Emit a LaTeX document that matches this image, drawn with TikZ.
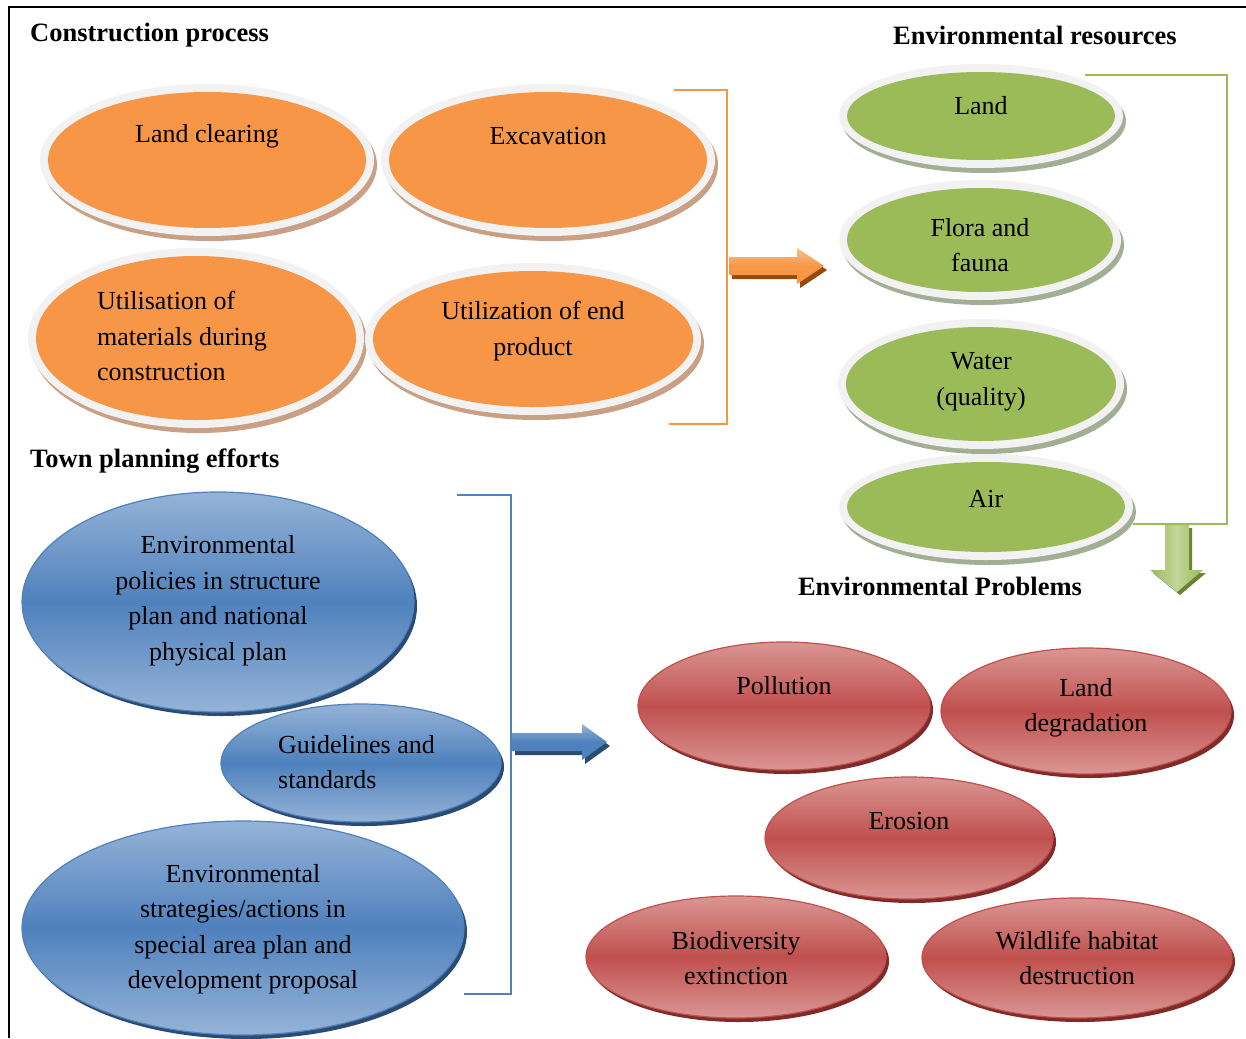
\documentclass[tikz,border=0pt]{standalone}
\usepackage{fontspec}
\setmainfont{Liberation Serif}
\usetikzlibrary{shapes.geometric}
\definecolor{orng}{HTML}{F79646}
\definecolor{orngshadow}{HTML}{C9A083}
\definecolor{grn}{HTML}{9BBB59}
\definecolor{grnshadow}{HTML}{A3AF94}
\definecolor{ringgray}{HTML}{F2F2F2}
\definecolor{blu1}{HTML}{95B3D7}
\definecolor{blu2}{HTML}{4F81BD}
\definecolor{blushadow}{HTML}{2B4B73}
\definecolor{red1}{HTML}{DA9694}
\definecolor{red2}{HTML}{C0504D}
\definecolor{redshadow}{HTML}{7E2B29}
\definecolor{orngdark}{HTML}{984807}
\definecolor{orngtop}{HTML}{FAC090}
\definecolor{grndark}{HTML}{6A8436}
\definecolor{grnlight}{HTML}{C3D69B}
\tikzset{
  base/.style={ellipse, inner sep=0pt, outer sep=0pt},
  bluefill/.style={top color=blu1, bottom color=blu1, middle color=blu2, draw=blu2, line width=1.2pt},
  redfill/.style={top color=red1, bottom color=red1, middle color=red2, draw=red2, line width=1.2pt},
  lbl/.style={inner sep=0pt, align=center, text=black},
  head/.style={inner sep=0pt, font=\fontsize{26.5}{32}\selectfont\bfseries},
  bracket/.style={line width=2pt},
}
% name, cx, cy, rx, ry, fill, shadow
\newcommand\RingEll[7]{%
  \node[base, fill=#7, minimum width={2*(#4+8)*1pt}, minimum height={2*(#5+8)*1pt}] at (#2+3,#3+5) {};
  \node[base, fill=ringgray, minimum width={2*(#4+8)*1pt}, minimum height={2*(#5+8)*1pt}] at (#2,#3) {};
  \node[base, fill=#6, minimum width={2*#4*1pt}, minimum height={2*#5*1pt}] (#1) at (#2,#3) {};
}
\newcommand\ShEll[7]{%
  \node[base, fill=#7, minimum width={2*#4*1pt}, minimum height={2*#5*1pt}] at (#2+3,#3+4) {};
  \node[base, #6, minimum width={2*#4*1pt}, minimum height={2*#5*1pt}] (#1) at (#2,#3) {};
}
\begin{document}
\begin{tikzpicture}[x=1pt,y=-1pt, font=\fontsize{26}{35.5}\selectfont]
\useasboundingbox (0,0) rectangle (1246,1038);
\fill[white] (0,0) rectangle (1246,1038);
% frame
\draw[line width=2pt] (8,7) -- (1246,7);
\draw[line width=2pt] (9,7) -- (9,1038);

% headings
\node[head, anchor=west] (hcp) at (30,35) {Construction process};
\node[head, anchor=west] (her) at (893,35) {Environmental resources};
\node[head, anchor=west] (htp) at (30,461) {Town planning efforts};
\node[head] (hep) at (940,586) {Environmental Problems};

% construction process (orange)
\RingEll{lc}{207}{160}{159}{68}{orng}{orngshadow}
\RingEll{ex}{548}{160}{159}{68}{orng}{orngshadow}
\RingEll{um}{196}{338}{160}{82}{orng}{orngshadow}
\RingEll{ue}{533}{339}{160}{68}{orng}{orngshadow}
\node[lbl] (tlc) at (207,136) {Land clearing};
\node[lbl] (tex) at (548,136) {Excavation};
\node[lbl, align=left, anchor=west] (tum) at (97,336) {Utilisation of\\materials during\\construction};
\node[lbl] (tue) at (533,331) {Utilization of end\\product};

% orange bracket
\coordinate (ob1) at (674,90);
\coordinate (ob2) at (727,90);
\coordinate (ob3) at (727,424);
\coordinate (ob4) at (669,424);
\draw[bracket, orng] (ob1) -- (ob2) -- (ob3) -- (ob4);

% orange block arrow
\fill[orngdark] (732,261) -- (800,261) -- (800,252) -- (827,270) -- (800,288) -- (800,279) -- (732,279) -- cycle;
\shade[top color=orngtop, bottom color=orng, middle color=orng] (729,257) -- (797,257) -- (797,248) -- (824,266) -- (797,284) -- (797,275) -- (729,275) -- cycle;

% environmental resources (green)
\RingEll{land}{981}{116}{134}{44}{grn}{grnshadow}
\RingEll{flora}{980}{240}{133}{52}{grn}{grnshadow}
\RingEll{water}{981}{384}{135}{57}{grn}{grnshadow}
\RingEll{air}{986}{507}{139}{45}{grn}{grnshadow}
\node[lbl] (tland) at (981,106) {Land};
\node[lbl] (tflora) at (980,245) {Flora and\\fauna};
\node[lbl] (twater) at (981,382) {Water\\(quality)};
\node[lbl] (tair) at (986,499) {Air};

% green bracket
\coordinate (gb1) at (1085,75);
\coordinate (gb2) at (1227,75);
\coordinate (gb3) at (1227,524);
\coordinate (gb4) at (1133,524);
\draw[bracket, grn] (gb1) -- (gb2) -- (gb3) -- (gb4);

% green down arrow
\fill[grndark] (1168,528) -- (1192,528) -- (1192,573) -- (1206,573) -- (1180,595) -- (1153,573) -- (1168,573) -- cycle;
\shade[left color=grn, right color=grn, middle color=grnlight] (1165,525) -- (1189,525) -- (1189,570) -- (1203,570) -- (1177,592) -- (1150,570) -- (1165,570) -- cycle;

% town planning (blue)
\ShEll{pol}{218}{602}{196}{110}{bluefill}{blushadow}
\ShEll{gui}{361}{763}{140}{59}{bluefill}{blushadow}
\ShEll{str}{243}{928}{221}{107}{bluefill}{blushadow}
\node[lbl] (tpol) at (218,601) {Environmental\\policies in structure\\plan and national\\physical plan};
\node[lbl, align=left, anchor=west] (tgui) at (278,762) {Guidelines and\\standards};
\node[lbl] (tstr) at (243,929) {Environmental\\strategies/actions in\\special area plan and\\development proposal};

% blue bracket
\coordinate (bb1) at (457,495);
\coordinate (bb2) at (511,495);
\coordinate (bb3) at (511,994);
\coordinate (bb4) at (464,994);
\draw[bracket, blu2] (bb1) -- (bb2) -- (bb3) -- (bb4);

% blue block arrow
\fill[blushadow] (515,737) -- (585,737) -- (585,728) -- (610,746) -- (585,764) -- (585,755) -- (515,755) -- cycle;
\shade[top color=blu1, bottom color=blu2, middle color=blu2] (512,733) -- (582,733) -- (582,724) -- (607,742) -- (582,760) -- (582,751) -- (512,751) -- cycle;

% environmental problems (red)
\ShEll{pollu}{784}{706}{146}{64}{redfill}{redshadow}
\ShEll{landdeg}{1086}{711}{145}{63}{redfill}{redshadow}
\ShEll{eros}{909}{838}{144}{61}{redfill}{redshadow}
\ShEll{bio}{736}{957}{150}{61}{redfill}{redshadow}
\ShEll{wild}{1077}{958}{155}{60}{redfill}{redshadow}
\node[lbl] (tpollu) at (784,686) {Pollution};
\node[lbl] (tlanddeg) at (1086,708) {Land\\degradation};
\node[lbl] (teros) at (909,821) {Erosion};
\node[lbl] (tbio) at (736,958) {Biodiversity\\extinction};
\node[lbl] (twild) at (1077,958) {Wildlife habitat\\destruction};
\end{tikzpicture}
\end{document}
